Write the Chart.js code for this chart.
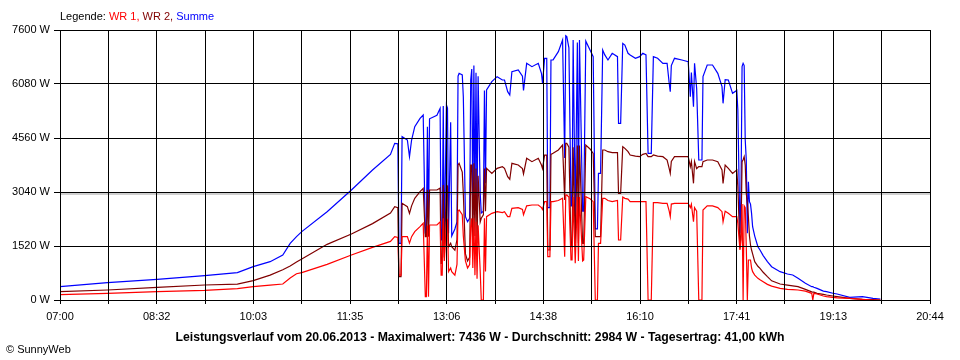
<!DOCTYPE html>
<html>
<head>
<meta charset="utf-8">
<script src="https://cdn.jsdelivr.net/npm/chart.js@4"></script>
<style>
  body { margin: 0; background: #fff; }
  #wrap { position: relative; width: 960px; height: 360px; font-family: "Liberation Sans", Arial, sans-serif; color: #000; }
  #chart { position: absolute; left: 0; top: 0; }
  .legend { position: absolute; left: 60px; top: 10px; font-size: 11px; line-height: 13px; white-space: nowrap; }
  .title { position: absolute; left: 0; width: 960px; top: 331px; text-align: center; font-size: 12.25px; line-height: 13px; font-weight: bold; white-space: nowrap; }
  .copy { position: absolute; left: 6px; top: 343px; font-size: 11px; line-height: 13px; }
</style>
</head>
<body>
<div id="wrap">
  <canvas id="chart" width="960" height="360"></canvas>
  <div class="legend">Legende: <span style="color:#ff0000">WR 1,</span> <span style="color:#800000">WR 2,</span> <span style="color:#0000ff">Summe</span></div>
  <div class="title">Leistungsverlauf vom 20.06.2013 - Maximalwert: 7436 W - Durchschnitt: 2984 W - Tagesertrag: 41,00 kWh</div>
  <div class="copy">© SunnyWeb</div>
</div>
<script>
// readings from the log (time of day, watts)
const times = [
  '07:00','07:45','08:32','09:17','09:48','10:03','10:19','10:31','10:38','10:44',
  '10:49','11:13','11:36','11:56','12:13','12:17','12:20','12:21','12:23','12:24',
  '12:29','12:31','12:33','12:36','12:41','12:44','12:46','12:47','12:48','12:49',
  '12:50','12:57','13:00','13:01','13:02','13:03','13:04','13:06','13:07','13:08',
  '13:10','13:11','13:14','13:16','13:17','13:18','13:21','13:22','13:24','13:26',
  '13:28','13:29','13:30','13:31','13:32','13:33','13:34','13:35','13:36','13:38',
  '13:39','13:41','13:42','13:43','13:44','13:49','13:54','13:59','14:01','14:04',
  '14:06','14:08','14:14','14:18','14:19','14:22','14:27','14:33','14:36','14:37',
  '14:39','14:41','14:42','14:44','14:45','14:47','14:52','14:56','14:58','14:59',
  '15:00','15:02','15:04','15:05','15:06','15:08','15:10','15:11','15:12','15:15',
  '15:16','15:18','15:22','15:25','15:27','15:29','15:30','15:32','15:34','15:36',
  '15:39','15:43','15:48','15:49','15:51','15:53','15:55','15:58','16:00','16:05',
  '16:09','16:12','16:15','16:17','16:20','16:22','16:26','16:31','16:35','16:37',
  '16:38','16:39','16:42','16:49','16:55','16:57','16:58','17:00','17:01','17:03',
  '17:05','17:08','17:09','17:13','17:18','17:23','17:27','17:28','17:30','17:33',
  '17:37','17:41','17:42','17:44','17:45','17:46','17:47','17:48','17:49','17:50',
  '17:51','17:52','17:53','17:54','17:55','17:56','17:58','18:01','18:03','18:06',
  '18:10','18:14','18:22','18:29','18:34','18:39','18:46','18:52','18:53','18:54',
  '18:57','19:03','19:06','19:12','19:16','19:28','19:40','19:50','19:57'
];

const wr1 = [
  150,188,234,272,320,375,420,450,620,740,
  770,1004,1267,1483,1650,1783,1760,700,700,1783,
  1783,1600,1783,1924,2064,2158,94,94,2100,94,
  2111,2111,2200,700,700,2300,1100,2200,2250,800,
  900,800,700,1000,2500,2533,2400,1800,1100,900,
  1000,2064,2300,900,2300,700,2200,600,2100,800,
  0,0,2300,800,2345,2439,2486,2460,2486,2345,
  2345,2580,2600,2550,2400,2650,2674,2674,2600,2550,
  2768,2768,1220,1220,2768,2768,2800,2862,1220,2950,
  2956,2900,1126,1126,2900,1032,2900,1100,2900,1100,
  1126,2909,2850,2768,0,0,1595,1595,2862,2862,
  2800,2768,2800,1689,1689,2900,2862,2840,2768,2768,
  2768,2768,2768,0,0,2740,2740,2721,2721,2500,
  2345,2700,2721,2721,2721,2600,2700,2204,2600,2500,
  0,0,2533,2650,2650,2600,2486,2204,2500,2440,
  2345,2345,2158,1407,1700,2700,0,2650,2600,1500,
  0,1126,1126,1126,900,797,700,610,570,516,
  440,390,328,300,290,281,250,188,0,188,
  170,113,95,75,60,47,19,0,0
];

const wr2 = [
  234,281,356,422,448,544,700,850,957,1070,
  1154,1567,1858,2150,2450,2627,2600,657,657,2721,
  2627,2439,2650,2862,3049,3143,1783,1783,3100,1783,
  3096,3096,3150,1032,1032,3237,1200,3237,3200,1500,
  1600,1500,1400,1700,3800,3847,3600,3000,1300,1100,
  1200,3800,3800,1500,3847,1800,3700,1600,3500,2200,
  2300,2400,3700,2500,3706,3565,3706,3753,3706,3472,
  3400,3847,3800,3700,3550,3988,3894,3988,3800,3700,
  4081,4080,1407,1407,4100,4128,4222,4363,2815,4410,
  4410,4300,1500,1500,4300,1600,4350,1600,4350,1595,
  1595,4363,4250,4128,1783,1783,1783,1783,4222,4222,
  4175,4150,4150,3002,3002,4316,4269,4175,4081,4050,
  4034,4100,4128,4034,4034,4081,4050,4034,3941,3700,
  3565,3900,4034,4034,4034,3753,3900,3284,3900,3700,
  3753,3753,3894,3941,3941,3894,3660,3284,3800,3706,
  3565,3660,3190,1454,1900,3894,3950,4034,3800,3000,
  2721,2345,1800,1548,1407,1300,1079,950,891,780,
  657,540,450,420,400,375,300,230,220,220,
  188,160,140,113,95,47,20,10,0
];

const summe = [
  375,488,582,685,770,938,1079,1267,1595,1783,
  1924,2486,3096,3659,4100,4410,4400,1595,1595,4597,
  4504,4034,4504,4879,5114,5207,1880,1880,4879,1880,
  5100,5200,5395,1689,1689,5461,1600,5488,5400,1877,
  5000,1800,2000,2200,6300,6381,6334,5723,2345,2204,
  2300,6193,6500,2400,6600,2500,6400,2450,6300,3000,
  2449,2500,5900,3284,5911,6145,6287,6193,6193,5864,
  5770,6427,6474,6300,5900,6662,6568,6662,6381,6100,
  6803,6800,2600,2600,6756,6760,6990,7318,4000,7436,
  7412,7100,2650,2650,7318,2345,7250,2500,7318,2500,
  2500,7286,7037,6850,2000,2000,3565,3565,7037,6900,
  6756,6944,6850,4973,4973,7224,7177,6944,6896,6803,
  6850,6944,6900,4128,4128,6850,6803,6662,6662,6100,
  5864,6600,6803,6756,6710,5723,6400,5441,6662,5950,
  3941,3941,6287,6615,6615,6381,6005,5536,6200,6193,
  5818,5900,5348,1877,3000,6568,6662,6600,4504,3941,
  1877,3330,2768,2700,2439,2064,1800,1500,1407,1250,
  1080,938,797,732,704,610,469,375,375,360,
  328,250,234,190,169,75,94,47,28
];

const average = 2984;
const tickLabels = ['07:00','08:32','10:03','11:35','13:06','14:38','16:10','17:41','19:13','20:44'];

const startMin = 7 * 60;
const endMin = 20 * 60 + 44;

function toMin(t) {
    const [h, m] = t.split(':').map(Number);
    return h * 60 + m;
}

function points(vals) {
    return vals.map((v, i) => ({ x: toMin(times[i]), y: v }));
}

Chart.defaults.font.family = '"Liberation Sans", Arial, sans-serif';
Chart.defaults.font.size = 11;
Chart.defaults.color = '#000';

new Chart(document.getElementById('chart'), {
    type: 'line',
    data: {
        datasets: [
            { label: 'WR 1', data: points(wr1), borderColor: '#ff0000' },
            { label: 'WR 2', data: points(wr2), borderColor: '#800000' },
            { label: 'Summe', data: points(summe), borderColor: '#0000ff' },
            { label: 'Durchschnitt', data: [{ x: startMin, y: average }, { x: endMin, y: average }], borderColor: '#a0a0a0' }
        ]
    },
    options: {
        responsive: false,
        animation: false,
        layout: { padding: { top: 30, right: 30, bottom: 30, left: 0 } },
        elements: {
            point: { radius: 0 },
            line: { borderWidth: 1.2, tension: 0 }
        },
        plugins: {
            legend: { display: false },
            tooltip: { enabled: false }
        },
        scales: {
            x: {
                type: 'linear',
                min: startMin,
                max: endMin,
                afterBuildTicks: scale => {
                    scale.ticks = Array.from({ length: 19 }, (_, i) => ({ value: startMin + i * (endMin - startMin) / 18 }));
                },
                afterFit: scale => { scale.height = 30; },
                grid: { color: '#000', z: 1, tickLength: 4 },
                border: { color: '#000', z: 1 },
                ticks: {
                    autoSkip: false,
                    maxRotation: 0,
                    padding: 6,
                    callback: (v, i) => (i % 2 ? '' : tickLabels[i / 2])
                }
            },
            y: {
                min: 0,
                max: 7600,
                afterFit: scale => { scale.width = 60; },
                grid: { color: '#000', z: 1, tickLength: 6 },
                border: { color: '#000', z: 1 },
                ticks: {
                    stepSize: 1520,
                    padding: 4,
                    callback: v => v + ' W'
                }
            }
        }
    }
});
</script>
</body>
</html>
